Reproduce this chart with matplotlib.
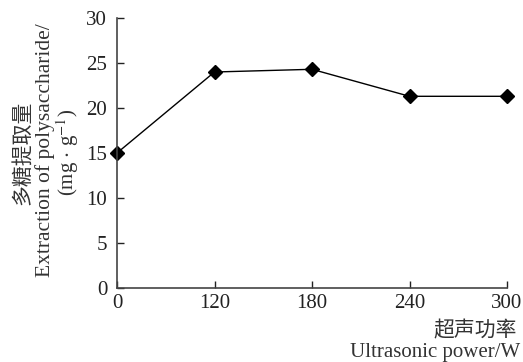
import matplotlib.pyplot as plt

plt.rcParams['font.family'] = ['Liberation Serif', 'Noto Sans CJK SC']
plt.rcParams['mathtext.fontset'] = 'stix'

# 超声功率 / 多糖提取量
power = ['0', '120', '180', '240', '300']
extraction = [15.0, 24.0, 24.3, 21.3, 21.3]

fig = plt.figure(figsize=(5.23, 3.62), dpi=100)
ax = fig.add_axes([117 / 523, 1 - 288 / 362, (507 - 117) / 523, (288 - 18) / 362])

x = list(range(len(power)))
ax.plot(x, extraction, color='black', lw=1, marker='D', markersize=7, clip_on=False)

ax.set_xlim(0, len(power) - 1)
ax.set_ylim(0, 30)
ax.set_xticks(x)
ax.set_xticklabels(power)
ax.set_yticks([0, 5, 10, 15, 20, 25, 30])
ax.tick_params(direction='in', length=5, width=1, labelsize=15, colors='#222222')
ax.tick_params(axis='y', pad=7)
ax.tick_params(axis='x', pad=4)
ax.spines['top'].set_visible(False)
ax.spines['right'].set_visible(False)
for s in ['left', 'bottom']:
    ax.spines[s].set_color('#444444')
    ax.spines[s].set_linewidth(1.2)
for lab in ax.get_xticklabels() + ax.get_yticklabels():
    lab.set_color('#222222')

# y轴标题（三行）
fig.text(22 / 523, 1 - 153 / 362, '多糖提取量', rotation=90, ha='center', va='center',
         fontsize=15, family=['Noto Sans CJK SC'], color='#333333')
fig.text(45 / 523, 1 - 150 / 362, 'Extraction of polysaccharide/', rotation=90,
         ha='center', va='center', fontsize=15.5, color='#333333')
fig.text(68 / 523, 1 - 152 / 362, r'(mg $\cdot$ g$^{-1}$)', rotation=90,
         ha='center', va='center', fontsize=15, color='#333333')

# x轴标题（两行）
fig.text(517 / 523, 1 - 330 / 362, '超声功率', ha='right', va='center',
         fontsize=15, family=['Noto Sans CJK SC'], color='#333333')
fig.text(520 / 523, 1 - 352 / 362, 'Ultrasonic power/W', ha='right', va='center',
         fontsize=15, color='#333333')

plt.savefig('out.png', dpi=100)
